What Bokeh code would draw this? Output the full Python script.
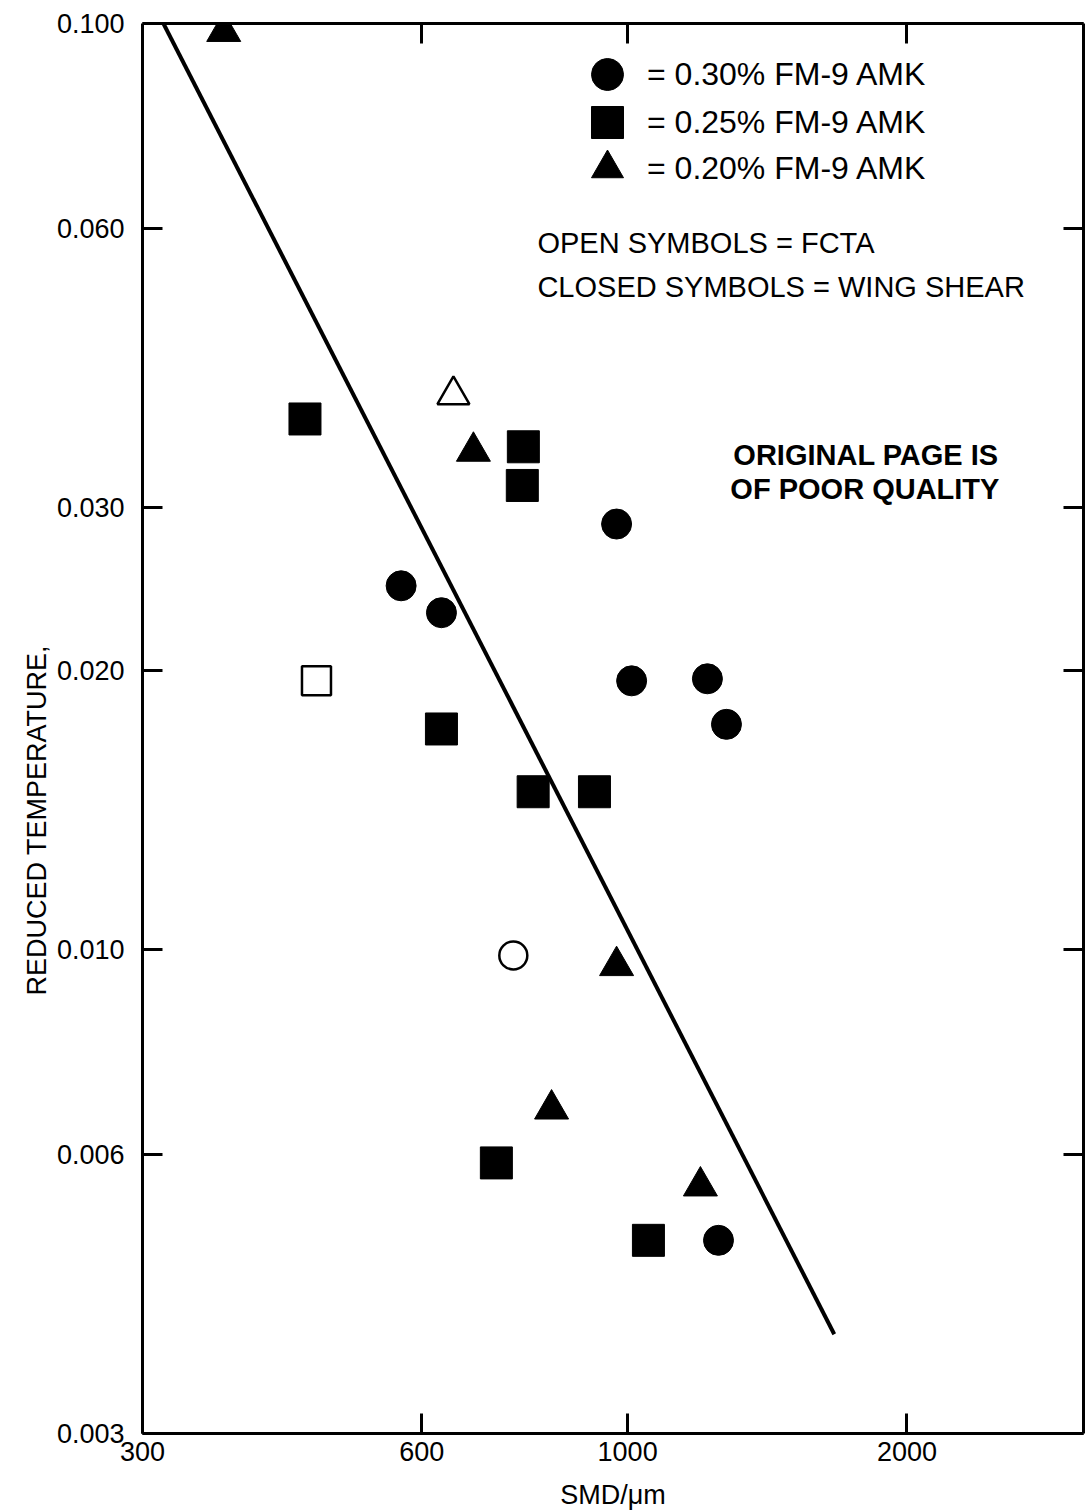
from bokeh.plotting import figure
from bokeh.models import (LogAxis, FixedTicker, Legend, LegendItem, Label, Range1d, Title)
from bokeh.embed import file_html
from bokeh.resources import INLINE

# ---------------- data ----------------
circle_closed_x = [570, 630, 973, 1010, 1219, 1278, 1253]
circle_closed_y = [0.0247, 0.0231, 0.0288, 0.0195, 0.0196, 0.0175, 0.00485]
circle_open_x = [753]
circle_open_y = [0.00985]

square_closed_x = [449, 772, 770, 630, 791, 921, 722, 1053]
square_closed_y = [0.0374, 0.0349, 0.0317, 0.0173, 0.0148, 0.0148, 0.00588, 0.00485]
square_open_x = [462]
square_open_y = [0.0195]

triangle_closed_x = [367, 682, 973, 828, 1198]
triangle_closed_y = [0.098, 0.0345, 0.0096, 0.00672, 0.00555]
triangle_open_x = [649]
triangle_open_y = [0.0397]

fit_x = [316, 1670]
fit_y = [0.1, 0.00384]

x_ticks = [300, 600, 1000, 2000]
x_tick_labels = ["300", "600", "1000", "2000"]
y_ticks = [0.003, 0.006, 0.010, 0.020, 0.030, 0.060, 0.100]
y_tick_labels = ["0.003", "0.006", "0.010", "0.020", "0.030", "0.060", "0.100"]

legend_labels = ["= 0.30% FM-9 AMK", "= 0.25% FM-9 AMK", "= 0.20% FM-9 AMK"]
note_lines = ["OPEN SYMBOLS = FCTA", "CLOSED SYMBOLS = WING SHEAR"]
stamp_lines = ["ORIGINAL PAGE IS", "OF POOR QUALITY"]
x_label = "SMD/\u03bcm"
y_label = "REDUCED TEMPERATURE,"

X_START, X_END = 300, 3100
Y_START, Y_END = 0.003, 0.1

FONT = "Liberation Sans"

# ---------------- layout helpers (page pixels -> data) ----------------
FRAME_L, FRAME_T, FRAME_B, PX_PER_DEC = 142, 23, 1436, 928.0


def px2x(px):
    return X_START * 10 ** ((px - FRAME_L) / PX_PER_DEC)


def px2y(py):
    return Y_END * 10 ** (-(py - FRAME_T) / PX_PER_DEC)


p = figure(width=1086, height=1512, x_axis_type="log", y_axis_type="log",
           x_range=Range1d(X_START, X_END), y_range=Range1d(Y_START, Y_END),
           output_backend="svg", toolbar_location=None,
           min_border_left=142, min_border_right=3, min_border_top=23,
           min_border_bottom=76)
p.grid.visible = False
p.outline_line_color = None
p.background_fill_color = "white"
p.border_fill_color = "white"


def style_axis(ax, ticks, labels, show_labels):
    ax.ticker = FixedTicker(ticks=ticks)
    ax.axis_line_width = 3
    ax.axis_line_color = "black"
    ax.major_tick_line_width = 3
    ax.major_tick_line_color = "black"
    ax.major_tick_in = 20
    ax.major_tick_out = 0
    ax.minor_tick_line_color = None
    if show_labels:
        ax.major_label_overrides = dict(zip(ticks, labels))
        ax.major_label_text_font = FONT
        ax.major_label_text_font_size = "27px"
        ax.major_label_text_color = "black"
    else:
        ax.major_label_text_color = None
        ax.major_label_text_font_size = "1px"
        ax.major_label_standoff = 0


style_axis(p.xaxis[0], x_ticks, x_tick_labels, True)
p.xaxis[0].major_label_standoff = 8
p.xaxis[0].axis_label = x_label
p.xaxis[0].axis_label_text_font = FONT
p.xaxis[0].axis_label_text_font_size = "27px"
p.xaxis[0].axis_label_text_font_style = "normal"
p.xaxis[0].axis_label_text_color = "black"
p.xaxis[0].axis_label_standoff = 16

style_axis(p.yaxis[0], y_ticks, y_tick_labels, True)
p.yaxis[0].major_label_standoff = 18

top_ax = LogAxis()
style_axis(top_ax, x_ticks[1:], x_tick_labels[1:], False)
p.add_layout(top_ax, "above")

right_ax = LogAxis()
style_axis(right_ax, y_ticks, y_tick_labels, False)
p.add_layout(right_ax, "right")

# y-axis title, starting lower than the frame centre as in the reference
p.add_layout(Title(text=y_label, text_font=FONT, text_font_size="27px",
                   text_font_style="normal", text_color="black",
                   align="left", offset=FRAME_B - 998, standoff=4), "left")

# ---------------- fitted line ----------------
p.line(fit_x, fit_y, line_width=4, line_color="black")

# ---------------- markers ----------------
rc = p.scatter(circle_closed_x, circle_closed_y, marker="circle", size=30,
               fill_color="black", line_color="black")
p.scatter(circle_open_x, circle_open_y, marker="circle", size=28,
          fill_color="white", line_color="black", line_width=2.5)
rs = p.scatter(square_closed_x, square_closed_y, marker="square", size=32,
               fill_color="black", line_color="black")
p.scatter(square_open_x, square_open_y, marker="square", size=29,
          fill_color="white", line_color="black", line_width=2.5)
rt = p.scatter(triangle_closed_x, triangle_closed_y, marker="triangle", size=34,
               fill_color="black", line_color="black")
p.scatter(triangle_open_x, triangle_open_y, marker="triangle", size=32,
          fill_color="white", line_color="black", line_width=2.5)

# ---------------- legend (one box per symbol, stacked) ----------------
GLYPH = 80
for label, rend, row_y in zip(legend_labels, [rc, rs, rt], [77, 125, 171]):
    lg = Legend(items=[LegendItem(label=label, renderers=[rend])],
                location=(607 - GLYPH // 2 - FRAME_L, FRAME_B - (row_y + GLYPH // 2)),
                glyph_width=GLYPH, glyph_height=GLYPH,
                spacing=0, label_standoff=0, padding=0, margin=0,
                border_line_color=None, background_fill_alpha=0,
                label_text_font=FONT, label_text_font_size="32px",
                label_text_color="black")
    p.add_layout(lg)

# ---------------- notes ----------------
for txt, py in zip(note_lines, [243, 287]):
    p.add_layout(Label(x=px2x(537), y=px2y(py), text=txt, text_font=FONT,
                       text_font_size="29px", text_baseline="middle",
                       text_align="left", text_color="black"))

for txt, px, py in zip(stamp_lines, [733, 730], [455, 490]):
    p.add_layout(Label(x=px2x(px), y=px2y(py), text=txt, text_font=FONT,
                       text_font_size="29px", text_font_style="bold",
                       text_baseline="middle", text_align="left",
                       text_color="black"))

open("out.html", "w").write(file_html(p, INLINE))
